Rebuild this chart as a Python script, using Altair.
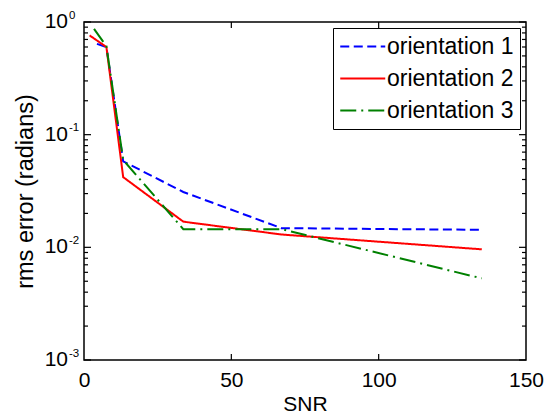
import altair as alt
import pandas as pd

# ---- data ----
series_names = ["orientation 1", "orientation 2", "orientation 3"]

snr_o1 = [4.4, 7.6, 13.3, 33.7, 67.0, 135.0]
rms_o1 = [0.64, 0.60, 0.058, 0.031, 0.0148, 0.0143]

snr_o2 = [1.9, 7.6, 13.3, 33.7, 67.0, 135.0]
rms_o2 = [0.76, 0.60, 0.042, 0.0169, 0.0130, 0.0096]

snr_o3 = [3.4, 7.6, 13.3, 33.7, 67.0, 135.0]
rms_o3 = [0.87, 0.61, 0.0596, 0.0145, 0.0145, 0.0053]

x_ticks = [0, 50, 100, 150]
x_inner_ticks = [50, 100]
y_ticks = [1, 0.1, 0.01, 0.001]
y_tick_exp = ["0", "-1", "-2", "-3"]
y_minor = [m * d for d in [0.001, 0.01, 0.1] for m in range(2, 10)]

colors = ["#0000ff", "#ff0000", "#008000"]
dashes = [[9, 4.5], [1, 0], [16, 5, 2, 5]]

W, H = 442, 338
FONT = "Liberation Sans"

rows = []
for name, xs, ys in zip(series_names, [snr_o1, snr_o2, snr_o3], [rms_o1, rms_o2, rms_o3]):
    for a, b in zip(xs, ys):
        rows.append({"series": name, "snr": a, "rms": b})
df = pd.DataFrame(rows)

xscale = alt.Scale(domain=[0, 150], nice=False, zero=False)
yscale = alt.Scale(type="log", domain=[0.001, 1], nice=False)

leg = alt.Legend(title=None, orient="none", legendX=249, legendY=6)

lines = alt.Chart(df).mark_line(strokeWidth=2, clip=True).encode(
    x=alt.X("snr:Q", scale=xscale,
            axis=alt.Axis(values=x_ticks, title="SNR", ticks=False, domain=False, grid=False,
                          labelFontSize=21, labelFont=FONT, labelColor="black", labelPadding=9,
                          labelFlush=False, titleFontSize=21, titleFont=FONT, titleFontWeight="normal",
                          titleColor="black", titlePadding=3, format="d")),
    y=alt.Y("rms:Q", scale=yscale,
            axis=alt.Axis(values=y_ticks, labels=False, ticks=False, domain=False, grid=False,
                          title="rms error (radians)", titleFontSize=23.5, titleFont=FONT,
                          titleFontWeight="normal", titleColor="black", titleX=-59, titleY=H / 2,
                          titleAngle=-90, titleAlign="center", titleBaseline="middle")),
    color=alt.Color("series:N", scale=alt.Scale(domain=series_names, range=colors), legend=leg),
    strokeDash=alt.StrokeDash("series:N", scale=alt.Scale(domain=series_names, range=dashes),
                              legend=leg),
)

ymaj = pd.DataFrame({"rms": y_ticks, "base": ["10"] * len(y_ticks), "exp": y_tick_exp})
ymin = pd.DataFrame({"rms": y_minor})
xin = pd.DataFrame({"snr": x_inner_ticks})

def yrule(data, x0, x1):
    return alt.Chart(data).mark_rule(color="black", strokeWidth=1.2).encode(
        y=alt.Y("rms:Q", scale=yscale), x=alt.value(x0), x2=alt.value(x1))

def xrule(data, y0, y1):
    return alt.Chart(data).mark_rule(color="black", strokeWidth=1.2).encode(
        x=alt.X("snr:Q", scale=xscale), y=alt.value(y0), y2=alt.value(y1))

ticks = [
    yrule(ymaj, 0, 7), yrule(ymaj, W - 7, W),
    yrule(ymin, 0, 4), yrule(ymin, W - 4, W),
    xrule(xin, 0, 6), xrule(xin, H - 6, H),
]

ybase = alt.Chart(ymaj).mark_text(align="right", baseline="middle", fontSize=21, font=FONT,
                                   color="black").encode(
    y=alt.Y("rms:Q", scale=yscale), x=alt.value(-16), text="base:N")
yexp = alt.Chart(ymaj).mark_text(align="left", baseline="alphabetic", fontSize=11.5, font=FONT,
                                  color="black", dy=-3.5).encode(
    y=alt.Y("rms:Q", scale=yscale), x=alt.value(-15), text="exp:N")

chart = alt.layer(lines, *ticks, ybase, yexp).properties(
    width=W, height=H,
    autosize=alt.AutoSizeParams(type="none"),
    padding={"left": 76, "top": 14, "right": 23, "bottom": 62},
    background="white",
).configure_view(stroke="black", strokeWidth=1.5).configure_legend(
    strokeColor="black", fillColor="white", padding=6, cornerRadius=0,
    symbolType="M-1,0H3", symbolSize=506, symbolStrokeWidth=2,
    labelFontSize=23, labelFont=FONT, labelColor="black", labelOffset=23,
    rowPadding=7, labelLimit=300,
)

chart.save("out.html", embed_options={"renderer": "svg", "actions": False})
